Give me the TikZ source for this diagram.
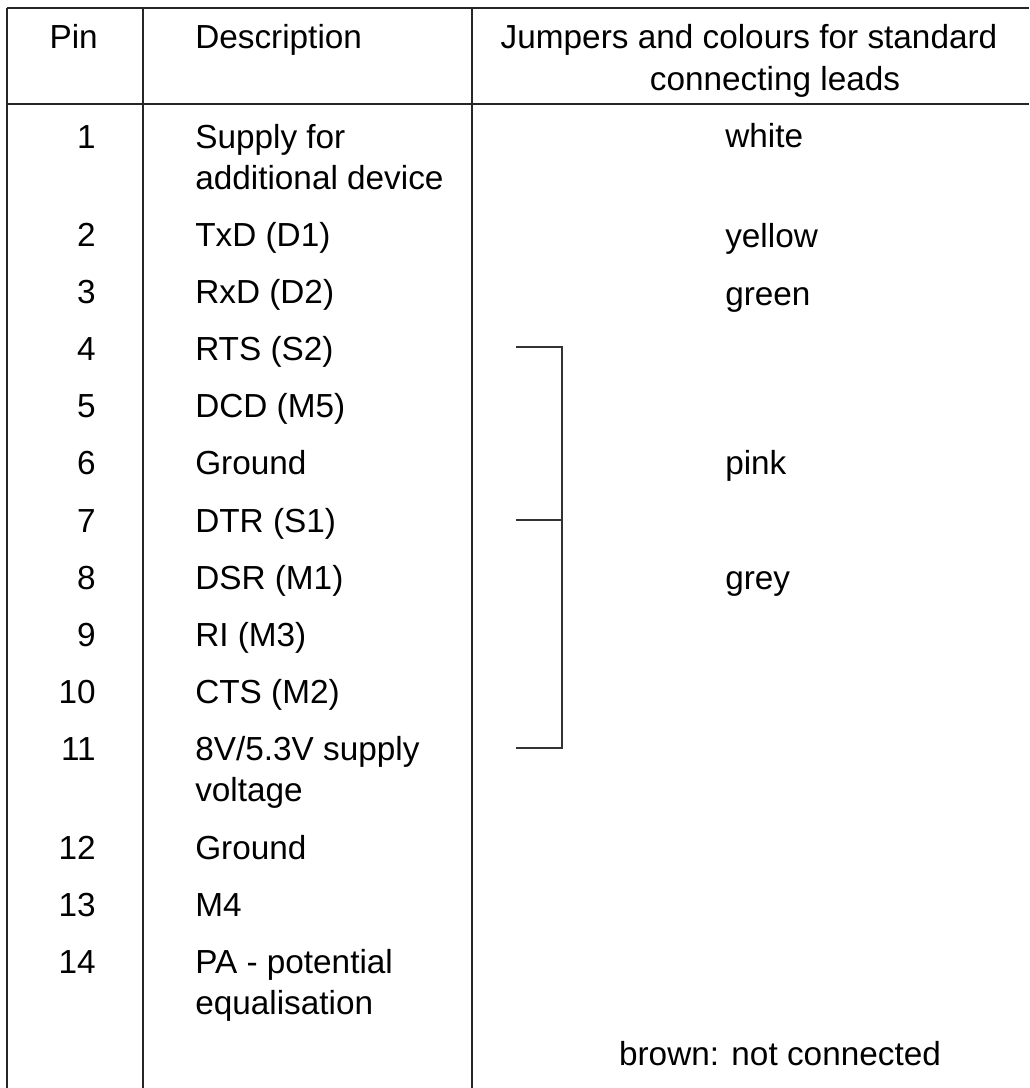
\documentclass[tikz,border=0pt]{standalone}
\usepackage{fontspec}
\setmainfont{Liberation Sans}
\begin{document}
\begin{tikzpicture}[x=0.75pt,y=-0.75pt,
  rule/.style={line width=1.1pt,draw=black!85},
  brk/.style={line width=1.0pt,draw=black!80},
  txt/.style={inner sep=0pt,font=\fontsize{25}{30}\selectfont},
  num/.style={txt,anchor=base east},
  desc/.style={txt,anchor=base west},
  col/.style={txt,anchor=base west},
  ctr/.style={txt,anchor=base}]
\useasboundingbox (0,0) rectangle (1029,1088);
% grid
\coordinate (tl) at (7,8);
\coordinate (tr) at (1029,8);
\coordinate (hl) at (7,104);
\coordinate (hr) at (1029,104);
\coordinate (bl) at (7,1088);
\coordinate (c1t) at (143,8);
\coordinate (c1b) at (143,1088);
\coordinate (c2t) at (472,8);
\coordinate (c2b) at (472,1088);
\draw[rule] (tl) -- (tr);
\draw[rule] (hl) -- (hr);
\draw[rule] (tl) -- (bl);
\draw[rule] (c1t) -- (c1b);
\draw[rule] (c2t) -- (c2b);
% header
\node[num] (hpin) at (98,49) {Pin};
\node[desc] (hdesc) at (195,49) {Description};
\node[ctr] (hj1) at (749,49) {Jumpers and colours for standard};
\node[ctr] (hj2) at (775,90) {connecting leads};
% pins
\node[num] (p1) at (96,148) {1};
\node[num] (p2) at (96,246) {2};
\node[num] (p3) at (96,303) {3};
\node[num] (p4) at (96,360) {4};
\node[num] (p5) at (96,417) {5};
\node[num] (p6) at (96,474) {6};
\node[num] (p7) at (96,532) {7};
\node[num] (p8) at (96,589) {8};
\node[num] (p9) at (96,646) {9};
\node[num] (p10) at (96,703) {10};
\node[num] (p11) at (96,760) {11};
\node[num] (p12) at (96,859) {12};
\node[num] (p13) at (96,916) {13};
\node[num] (p14) at (96,973) {14};
% descriptions
\node[desc] (d1a) at (195,148) {Supply for};
\node[desc] (d1b) at (195,189) {additional device};
\node[desc] (d2) at (195,246) {TxD (D1)};
\node[desc] (d3) at (195,303) {RxD (D2)};
\node[desc] (d4) at (195,360) {RTS (S2)};
\node[desc] (d5) at (195,417) {DCD (M5)};
\node[desc] (d6) at (195,474) {Ground};
\node[desc] (d7) at (195,532) {DTR (S1)};
\node[desc] (d8) at (195,589) {DSR (M1)};
\node[desc] (d9) at (195,646) {RI (M3)};
\node[desc] (d10) at (195,703) {CTS (M2)};
\node[desc] (d11a) at (195,760) {8V/5.3V supply};
\node[desc] (d11b) at (195,801) {voltage};
\node[desc] (d12) at (195,859) {Ground};
\node[desc] (d13) at (195,916) {M4};
\node[desc] (d14a) at (195,973) {PA - potential};
\node[desc] (d14b) at (195,1014) {equalisation};
% colours
\node[col] (cw) at (725,147) {white};
\node[col] (cy) at (725,247) {yellow};
\node[col] (cg) at (725,305) {green};
\node[col] (cp) at (725,474) {pink};
\node[col] (cgr) at (725,589) {grey};
\node[ctr] (cb) at (780,1065) {brown: not connected};
% jumper bracket
\coordinate (j4) at (516,347);
\coordinate (j7) at (516,520);
\coordinate (j11) at (516,748);
\coordinate (v4) at (562,347);
\coordinate (v7) at (562,520);
\coordinate (v11) at (562,748);
\draw[brk] (j4) -- (v4) -- (v11) -- (j11);
\draw[brk] (j7) -- (v7);
\end{tikzpicture}
\end{document}
